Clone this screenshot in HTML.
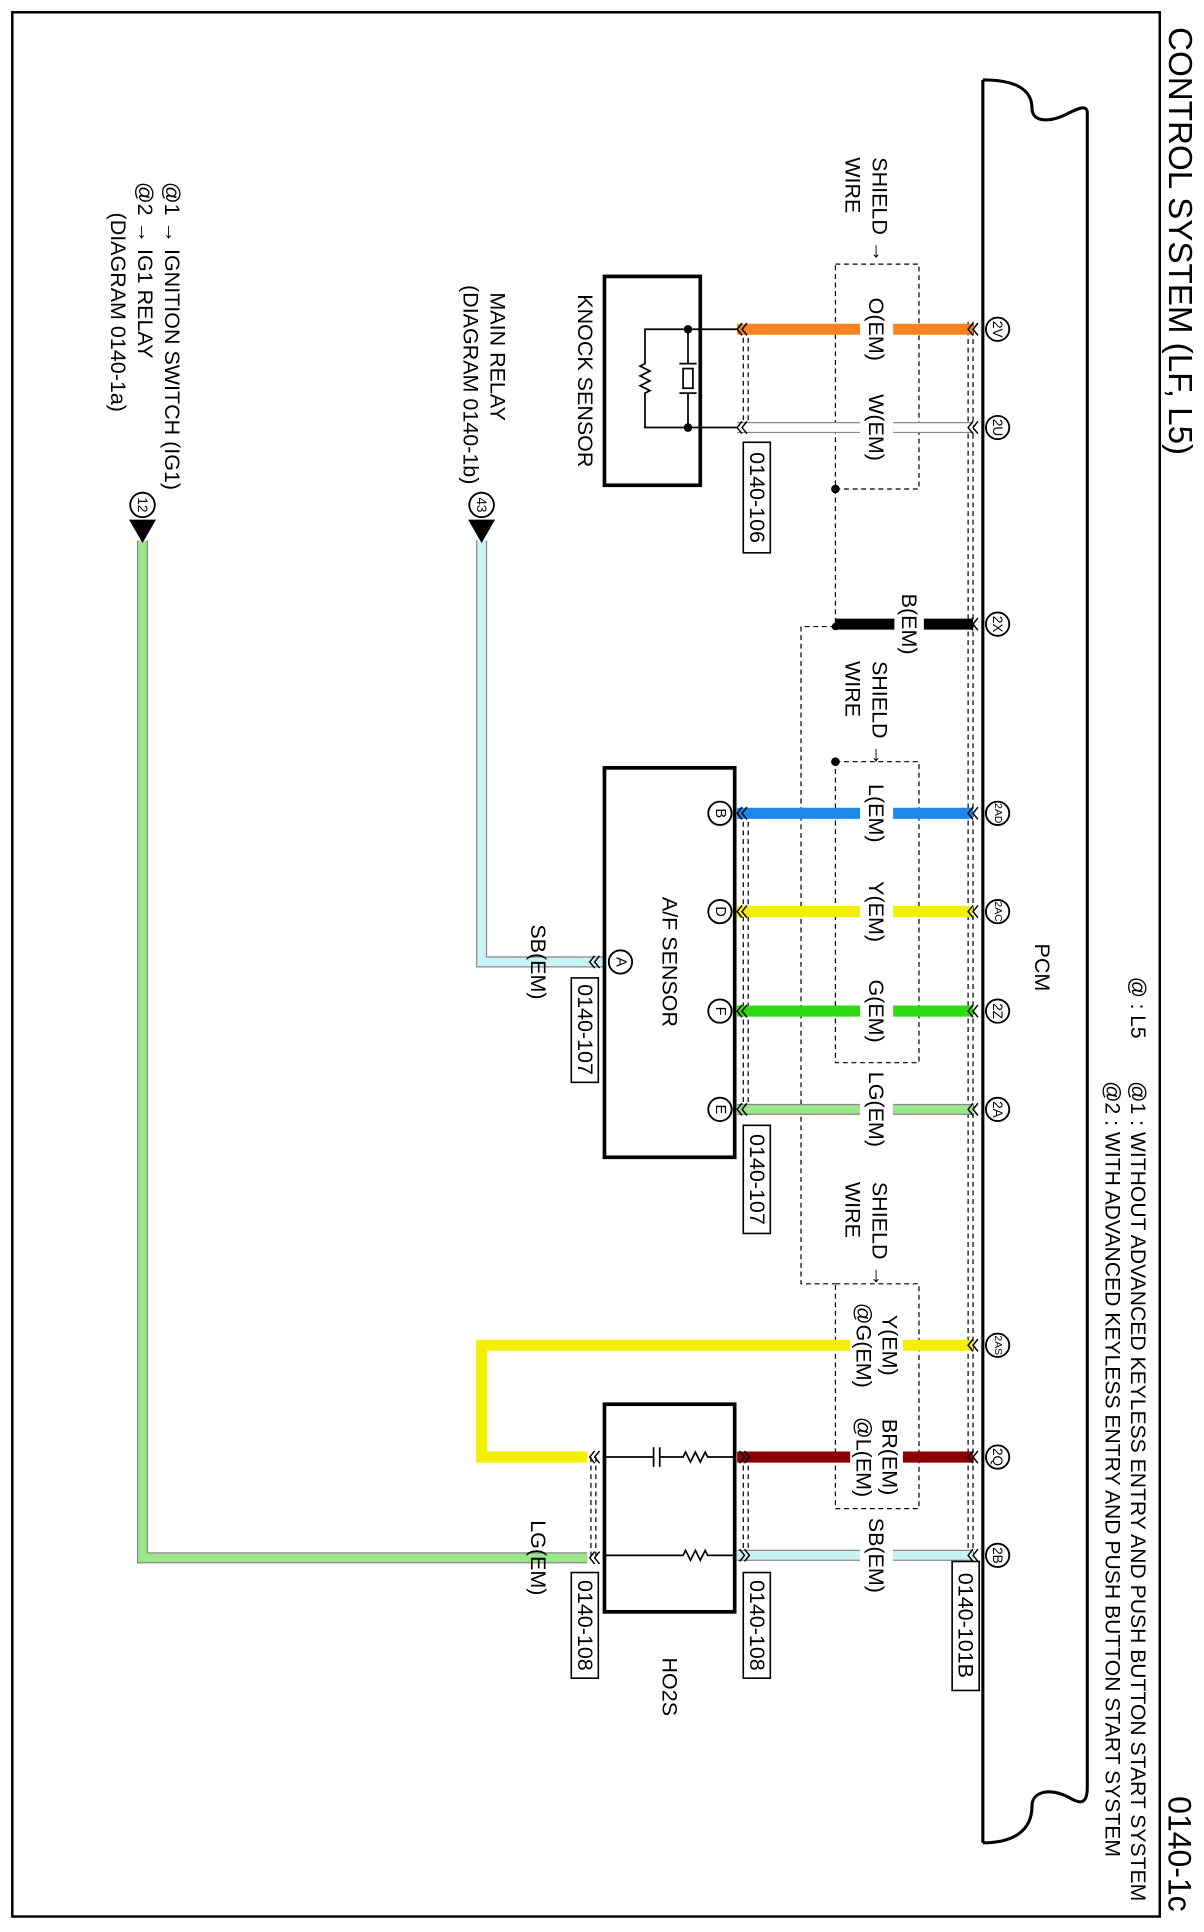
<!DOCTYPE html>
<html><head><meta charset="utf-8"><style>
html,body{margin:0;padding:0;background:#fff;}
svg{display:block;}
text{font-family:"Liberation Sans",Arial,sans-serif;fill:#000;}
</style></head><body>
<svg width="1204" height="1932" viewBox="0 0 980 1572.6" preserveAspectRatio="none" xmlns="http://www.w3.org/2000/svg">
<rect x="10" y="10" width="934" height="1550" fill="none" stroke="#000" stroke-width="2"/>
<g dominant-baseline="central">
<text transform="translate(960,22) rotate(90)" font-size="27">CONTROL SYSTEM (LF, L5)</text>
<text transform="translate(960,1556) rotate(90)" font-size="26" text-anchor="end">0140-1c</text>
<text transform="translate(926,795) rotate(90)" font-size="17">@ : L5</text>
<text transform="translate(926,880) rotate(90)" font-size="17.2">@1 : WITHOUT ADVANCED KEYLESS ENTRY AND PUSH BUTTON START SYSTEM</text>
<text transform="translate(905,880) rotate(90)" font-size="17.2">@2 : WITH ADVANCED KEYLESS ENTRY AND PUSH BUTTON START SYSTEM</text>
<text transform="translate(848,768) rotate(90)" font-size="17.5">PCM</text>
</g>
<path d="M800,65 L800,1500 M800,65 C830,65 840,75 840,88 C840,100 855,100 870,92 C878,88 885,85 885,92 L885,1455 C885,1470 878,1468 870,1463 C855,1455 840,1458 840,1470 C840,1490 825,1500 800,1500" fill="none" stroke="#000" stroke-width="2.5"/>
<g stroke="#000" stroke-width="1" stroke-dasharray="4,3" fill="none">
<line x1="788" y1="262" x2="788" y2="1272"/><line x1="792" y1="262" x2="792" y2="1272"/>
<line x1="605" y1="268" x2="605" y2="350"/><line x1="609" y1="268" x2="609" y2="350"/>
<line x1="605" y1="662" x2="605" y2="905"/><line x1="609" y1="662" x2="609" y2="905"/>
<line x1="605" y1="1186" x2="605" y2="1268"/><line x1="609" y1="1186" x2="609" y2="1268"/>
<line x1="481" y1="1186" x2="481" y2="1268"/><line x1="485" y1="1186" x2="485" y2="1268"/>
<line x1="481" y1="783" x2="481" y2="790"/>
<rect x="680" y="215" width="68" height="183"/>
<rect x="680" y="620" width="68" height="245"/>
<rect x="680" y="1045" width="68" height="183"/>
<polyline points="680,398 680,510 652,510 652,1045 680,1045"/>
</g>
<g fill="#000"><circle cx="680" cy="398" r="3.5"/><circle cx="680" cy="620" r="3.5"/><circle cx="680" cy="510" r="3"/></g>
<g stroke-width="9" fill="none">
<line x1="600" y1="268" x2="700" y2="268" stroke="#f7821e"/><line x1="727" y1="268" x2="792" y2="268" stroke="#f7821e"/>
<line x1="680" y1="508" x2="728" y2="508" stroke="#000"/><line x1="752" y1="508" x2="792" y2="508" stroke="#000"/>
<line x1="600" y1="662" x2="700" y2="662" stroke="#1e88e8"/><line x1="727" y1="662" x2="792" y2="662" stroke="#1e88e8"/>
<line x1="600" y1="742" x2="700" y2="742" stroke="#f4ee00"/><line x1="727" y1="742" x2="792" y2="742" stroke="#f4ee00"/>
<line x1="600" y1="823" x2="700" y2="823" stroke="#2ddc10"/><line x1="727" y1="823" x2="792" y2="823" stroke="#2ddc10"/>
<line x1="600" y1="1186" x2="692" y2="1186" stroke="#8b0000"/><line x1="735" y1="1186" x2="792" y2="1186" stroke="#8b0000"/>
<path d="M692,1095 L392,1095 L392,1186 L478,1186" stroke="#f4ee00"/><line x1="735" y1="1095" x2="792" y2="1095" stroke="#f4ee00"/>
</g>
<g fill="none">
<g stroke="#888" stroke-width="9"><line x1="600" y1="903" x2="700" y2="903"/><line x1="727" y1="903" x2="792" y2="903"/>
<line x1="600" y1="1266" x2="700" y2="1266"/><line x1="727" y1="1266" x2="792" y2="1266"/>
<path d="M492,783 L392,783 L392,440"/><path d="M478,1268 L116,1268 L116,440"/>
<line x1="600" y1="348" x2="700" y2="348"/><line x1="727" y1="348" x2="792" y2="348"/></g>
<g stroke-width="7"><line x1="600" y1="903" x2="700" y2="903" stroke="#9be68a"/><line x1="727" y1="903" x2="792" y2="903" stroke="#9be68a"/>
<line x1="600" y1="1266" x2="700" y2="1266" stroke="#c8f4f8"/><line x1="727" y1="1266" x2="792" y2="1266" stroke="#c8f4f8"/>
<path d="M492,783 L392,783 L392,440" stroke="#c8f4f8"/><path d="M478,1268 L116,1268 L116,440" stroke="#9be68a"/>
<line x1="600" y1="348" x2="700" y2="348" stroke="#fff"/><line x1="727" y1="348" x2="792" y2="348" stroke="#fff"/></g>
</g>
<g stroke="#000" stroke-width="1.2" fill="none">
<path d="M792,263 l-4,5 l4,5 m4,-10 l-4,5 l4,5"/><path d="M792,343 l-4,5 l4,5 m4,-10 l-4,5 l4,5"/>
<path d="M792,503 l-4,5 l4,5 m4,-10 l-4,5 l4,5"/><path d="M792,657 l-4,5 l4,5 m4,-10 l-4,5 l4,5"/>
<path d="M792,737 l-4,5 l4,5 m4,-10 l-4,5 l4,5"/><path d="M792,818 l-4,5 l4,5 m4,-10 l-4,5 l4,5"/>
<path d="M792,898 l-4,5 l4,5 m4,-10 l-4,5 l4,5"/><path d="M792,1090 l-4,5 l4,5 m4,-10 l-4,5 l4,5"/>
<path d="M792,1181 l-4,5 l4,5 m4,-10 l-4,5 l4,5"/><path d="M792,1261 l-4,5 l4,5 m4,-10 l-4,5 l4,5"/>
<path d="M604,263 l-4,5 l4,5 m4,-10 l-4,5 l4,5"/><path d="M604,343 l-4,5 l4,5 m4,-10 l-4,5 l4,5"/>
<path d="M604,657 l-4,5 l4,5 m4,-10 l-4,5 l4,5"/><path d="M604,737 l-4,5 l4,5 m4,-10 l-4,5 l4,5"/>
<path d="M604,818 l-4,5 l4,5 m4,-10 l-4,5 l4,5"/><path d="M604,898 l-4,5 l4,5 m4,-10 l-4,5 l4,5"/>
<path d="M602,1181 l4,5 l-4,5 m4,-10 l4,5 l-4,5"/><path d="M602,1261 l4,5 l-4,5 m4,-10 l4,5 l-4,5"/>
<path d="M484,1181 l-4,5 l4,5 m4,-10 l-4,5 l4,5"/><path d="M484,1263 l-4,5 l4,5 m4,-10 l-4,5 l4,5"/>
<path d="M484,778 l-4,5 l4,5 m4,-10 l-4,5 l4,5"/>
</g>
<g fill="#fff" stroke="#000" stroke-width="1.5">
<circle cx="812" cy="268" r="9.5"/><circle cx="812" cy="348" r="9.5"/><circle cx="812" cy="508" r="9.5"/><circle cx="812" cy="662" r="9.5"/><circle cx="812" cy="742" r="9.5"/><circle cx="812" cy="823" r="9.5"/><circle cx="812" cy="903" r="9.5"/><circle cx="812" cy="1095" r="9.5"/><circle cx="812" cy="1186" r="9.5"/><circle cx="812" cy="1266" r="9.5"/>
<circle cx="586" cy="662" r="9.5"/><circle cx="586" cy="742" r="9.5"/><circle cx="586" cy="823" r="9.5"/><circle cx="586" cy="903" r="9.5"/><circle cx="505" cy="783" r="9.5"/>
<circle cx="392" cy="411" r="10"/><circle cx="116" cy="411" r="10"/>
</g>
<g dominant-baseline="central" text-anchor="middle" font-size="11">
<text transform="translate(812,268) rotate(90)">2V</text><text transform="translate(812,348) rotate(90)">2U</text><text transform="translate(812,508) rotate(90)">2X</text><text transform="translate(812,662) rotate(90)" font-size="8.5">2AD</text><text transform="translate(812,742) rotate(90)" font-size="8.5">2AC</text><text transform="translate(812,823) rotate(90)">2Z</text><text transform="translate(812,903) rotate(90)">2A</text><text transform="translate(812,1095) rotate(90)" font-size="8.5">2AS</text><text transform="translate(812,1186) rotate(90)">2Q</text><text transform="translate(812,1266) rotate(90)">2B</text>
<text transform="translate(586,662) rotate(90)" font-size="12">B</text><text transform="translate(586,742) rotate(90)" font-size="12">D</text><text transform="translate(586,823) rotate(90)" font-size="12">F</text><text transform="translate(586,903) rotate(90)" font-size="12">E</text><text transform="translate(505,783) rotate(90)" font-size="12">A</text>
<text transform="translate(392,411) rotate(90)" font-size="11">43</text><text transform="translate(116,411) rotate(90)" font-size="11">12</text>
</g>
<polygon points="381,423 403,423 392,442" fill="#000"/><polygon points="105,423 127,423 116,442" fill="#000"/>
<g fill="none" stroke="#000" stroke-width="3">
<rect x="492" y="225" width="78" height="170"/>
<rect x="492" y="625" width="106" height="317"/>
<rect x="492" y="1143" width="106" height="169"/>
</g>
<g stroke="#000" stroke-width="1.4" fill="none">
<path d="M600,268 L525,268 L525,296 l-4,2 8,4 -8,4 8,4 -8,4 8,4 -4,2 L525,348 L600,348"/>
<path d="M560,268 L560,296 M553,296 L567,296 M553,320 L567,320 M560,320 L560,348"/>
<rect x="556" y="300" width="8" height="16"/>
<path d="M492,1186 L532,1186 M532,1178 L532,1194 M537,1178 L537,1194 M537,1186 L556,1186 l2,-4 4,8 4,-8 4,8 4,-8 2,4 L598,1186"/>
<path d="M492,1266 L556,1266 l2,-4 4,8 4,-8 4,8 4,-8 2,4 L598,1266"/>
</g>
<g fill="#000"><circle cx="560" cy="268" r="3.5"/><circle cx="560" cy="348" r="3.5"/></g>
<g fill="#fff" stroke="#000" stroke-width="1.3">
<rect x="605" y="360" width="22" height="90"/><rect x="605" y="916" width="22" height="88"/><rect x="465" y="796" width="22" height="85"/>
<rect x="465" y="1280" width="22" height="86"/><rect x="605" y="1280" width="22" height="86"/><rect x="775" y="1271" width="22" height="105"/>
</g>
<g dominant-baseline="central" text-anchor="middle" font-size="17.5">
<text transform="translate(616,405) rotate(90)">0140-106</text><text transform="translate(616,960) rotate(90)">0140-107</text><text transform="translate(476,838) rotate(90)">0140-107</text>
<text transform="translate(476,1323) rotate(90)">0140-108</text><text transform="translate(616,1323) rotate(90)">0140-108</text><text transform="translate(786,1323) rotate(90)">0140-101B</text>
<text transform="translate(713,268) rotate(90)">O(EM)</text><text transform="translate(713,348) rotate(90)">W(EM)</text><text transform="translate(740,508) rotate(90)">B(EM)</text>
<text transform="translate(713,662) rotate(90)">L(EM)</text><text transform="translate(713,742) rotate(90)">Y(EM)</text><text transform="translate(713,823) rotate(90)">G(EM)</text><text transform="translate(713,903) rotate(90)">LG(EM)</text>
<text transform="translate(724,1095) rotate(90)">Y(EM)</text><text transform="translate(703,1095) rotate(90)">@G(EM)</text>
<text transform="translate(724,1186) rotate(90)">BR(EM)</text><text transform="translate(703,1186) rotate(90)">@L(EM)</text>
<text transform="translate(713,1266) rotate(90)">SB(EM)</text>
<text transform="translate(438,783) rotate(90)">SB(EM)</text><text transform="translate(438,1268) rotate(90)">LG(EM)</text>
<text transform="translate(476,310) rotate(90)">KNOCK SENSOR</text>
<text transform="translate(545,783) rotate(90)">A/F SENSOR</text>
<text transform="translate(545,1373) rotate(90)">HO2S</text>
</g>
<g dominant-baseline="central" font-size="17.5">
<text transform="translate(716,128) rotate(90)">SHIELD →</text><text transform="translate(694,128) rotate(90)">WIRE</text>
<text transform="translate(716,538) rotate(90)">SHIELD →</text><text transform="translate(694,538) rotate(90)">WIRE</text>
<text transform="translate(716,962) rotate(90)">SHIELD →</text><text transform="translate(694,962) rotate(90)">WIRE</text>
<text transform="translate(405,238) rotate(90)">MAIN RELAY</text><text transform="translate(383,232) rotate(90)">(DIAGRAM 0140-1b)</text>
<text transform="translate(140,148) rotate(90)">@1 → IGNITION SWITCH (IG1)</text><text transform="translate(118,148) rotate(90)">@2 → IG1 RELAY</text><text transform="translate(96,173) rotate(90)">(DIAGRAM 0140-1a)</text>
</g>
</svg>
</body></html>
